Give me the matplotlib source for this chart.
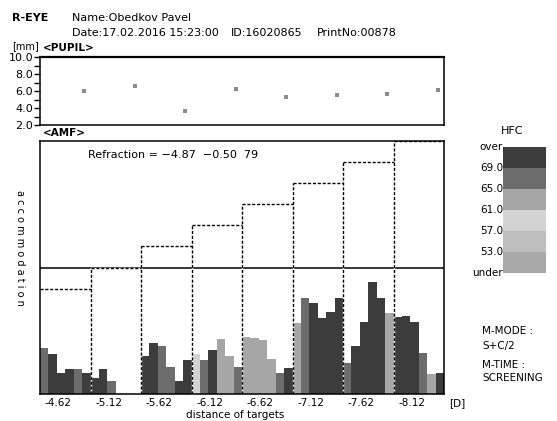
import matplotlib
matplotlib.use("Agg")
import matplotlib.pyplot as plt
import numpy as np

plt.rcParams['font.family'] = ['DejaVu Sans']

W, H = 557, 421

# target steps (D) and their stimulus levels (axis units)
targets = ['-4.62', '-5.12', '-5.62', '-6.12', '-6.62', '-7.12', '-7.62', '-8.12']
levels = [5, 6, 7, 8, 9, 10, 11, 12]

# pupil diameter per target [mm]
pupil = [5.95, 6.63, 3.61, 6.27, 5.27, 5.48, 5.63, 6.15]

# accommodation response, 6 samples per target
amf = [
    [2.17, 1.88, 1.01, 1.17, 1.17, 1.01],
    [0.74, 1.17, 0.62, 0.0, 0.0, 0.0],
    [1.82, 2.43, 2.28, 1.30, 0.62, 1.61],
    [1.88, 1.61, 2.09, 2.61, 1.82, 1.30],
    [2.69, 2.64, 2.56, 1.65, 1.01, 1.22],
    [3.38, 4.57, 4.30, 3.62, 3.90, 4.57],
    [1.48, 2.29, 3.43, 5.30, 4.57, 3.83],
    [3.64, 3.70, 3.43, 1.96, 0.93, 1.01],
]
# HFC value per sample
hfc = [
    [67, 71, 71, 71, 67, 71],
    [71, 71, 67, 71, 71, 71],
    [71, 71, 67, 67, 71, 71],
    [59, 67, 71, 63, 63, 67],
    [63, 63, 63, 63, 67, 71],
    [63, 67, 71, 71, 71, 71],
    [67, 71, 71, 71, 71, 63],
    [71, 71, 71, 67, 63, 71],
]

hfc_edges = [53, 57, 61, 65, 69]
hfc_labels = ['under', '53.0', '57.0', '61.0', '65.0', '69.0', 'over']
hfc_colors = ['#a8a8a8', '#bdbdbd', '#d3d3d3', '#a6a6a6', '#6c6c6c', '#3c3c3c']


def fx(x):
    return x / W


def fy(y):
    return 1 - y / H


def box(l, t, r, b):
    return [fx(l), fy(b), (r - l) / W, (b - t) / H]


fig = plt.figure(figsize=(W / 100, H / 100), dpi=100)

# header
fig.text(fx(12), fy(18), 'R-EYE', fontsize=8, fontweight='bold', va='center')
fig.text(fx(72), fy(18), 'Name:Obedkov Pavel', fontsize=8, va='center')
fig.text(fx(72), fy(33), 'Date:17.02.2016 15:23:00', fontsize=8, va='center')
fig.text(fx(231), fy(33), 'ID:16020865', fontsize=8, va='center')
fig.text(fx(317), fy(33), 'PrintNo:00878', fontsize=8, va='center')
fig.text(fx(12), fy(46), '[mm]', fontsize=7, va='center')
fig.text(fx(43), fy(48), '<PUPIL>', fontsize=7.5, fontweight='bold', va='center')
fig.text(fx(43), fy(133), '<AMF>', fontsize=7.5, fontweight='bold', va='center')

# pupil panel
ax1 = fig.add_axes(box(40, 57, 444, 125))
n = len(targets)
ax1.plot(np.arange(n) + 0.88, pupil, 's', color='#8c8c8c', markersize=3, markeredgewidth=0)
ax1.set_xlim(0, n)
ax1.set_ylim(2, 10)
ax1.set_xticks([])
ax1.set_yticks([2, 4, 6, 8, 10])
ax1.set_yticklabels(['2.0', '4.0', '6.0', '8.0', '10.0'])
ax1.set_yticks([3, 5, 7, 9], minor=True)
ax1.tick_params(axis='y', which='both', direction='out', length=4, width=1, labelsize=8, pad=1)
for s in ax1.spines.values():
    s.set_linewidth(1.1)
ax1.spines['top'].set_linewidth(1.6)

# AMF panel
ax2 = fig.add_axes(box(40, 141, 444, 394))
w = 1 / 6
for i in range(n):
    for j in range(6):
        k = np.searchsorted(hfc_edges, hfc[i][j])
        ax2.bar(i + j * w, amf[i][j], width=w, align='edge', color=hfc_colors[k], linewidth=0)

ax2.axhline(6, color='black', linewidth=1.1, zorder=3)

# dashed target steps
xs, ys = [], []
for i in range(n):
    xs.append([i, i + 1])
    ys.append([levels[i], levels[i]])
    if i > 0:
        xs.append([i, i])
        ys.append([0, max(levels[i - 1], levels[i])])
for x, y in zip(xs, ys):
    ax2.plot(x, y, color='white', linewidth=1, zorder=4)
    ax2.plot(x, y, color='black', linewidth=1, dashes=(2.2, 1.3), zorder=5)

ax2.set_xlim(0, n)
ax2.set_ylim(0, 12)
ax2.set_yticks([])
ax2.set_xticks(np.arange(n) + 0.36)
ax2.set_xticklabels(targets, fontsize=7.5)
ax2.tick_params(axis='x', length=0, pad=3)
for s in ax2.spines.values():
    s.set_linewidth(1.1)
    s.set_zorder(6)

ax2.text(0.12, 0.945, 'Refraction = \u22124.87  \u22120.50  79', transform=ax2.transAxes,
         fontsize=8, va='center')

fig.text(fx(235), fy(415), 'distance of targets', fontsize=7.5, ha='center', va='center')
fig.text(fx(20), fy(248), ' '.join('accommodation'), fontsize=7, rotation=-90,
         ha='center', va='center')
fig.text(fx(449), fy(403), '[D]', fontsize=7.5, va='center')

# HFC legend
ax3 = fig.add_axes(box(503, 147, 546, 273))
ax3.bar(0, [1] * 6, bottom=np.arange(6), width=1, color=hfc_colors, align='edge', linewidth=0)
ax3.set_xlim(0, 1)
ax3.set_ylim(0, 6)
ax3.axis('off')
fig.text(fx(512), fy(131), 'HFC', fontsize=8, ha='center', va='center')
for k, lab in enumerate(hfc_labels):
    fig.text(fx(503), fy(273 - k * 21), lab, fontsize=7.5, ha='right', va='center')

fig.text(fx(482), fy(331), 'M-MODE :', fontsize=7.5, va='center')
fig.text(fx(482), fy(346), 'S+C/2', fontsize=7.5, va='center')
fig.text(fx(482), fy(365), 'M-TIME :', fontsize=7.5, va='center')
fig.text(fx(482), fy(378), 'SCREENING', fontsize=7.5, va='center')

fig.savefig('out.png', dpi=100)
